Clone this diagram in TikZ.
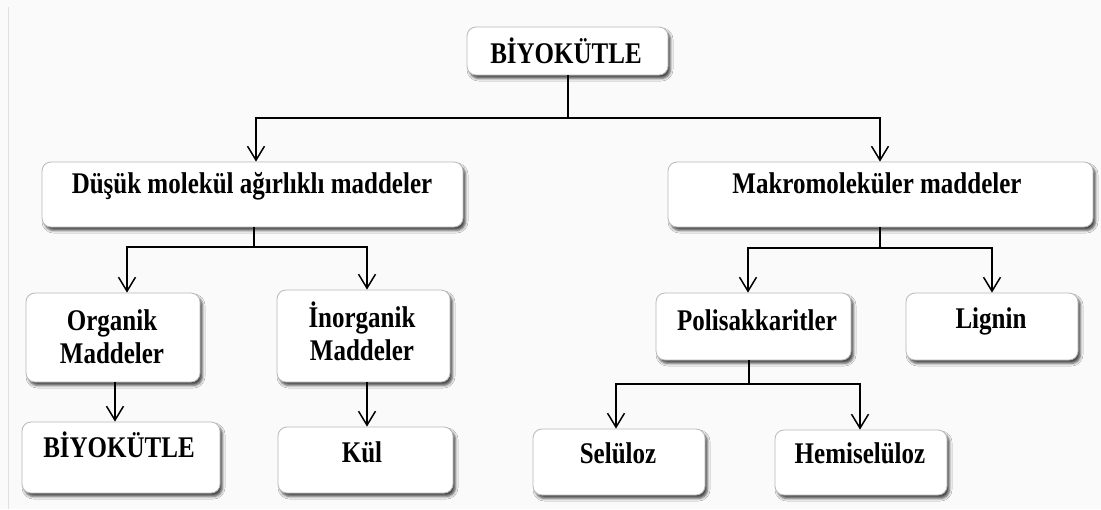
\documentclass[tikz,border=0pt]{standalone}
\usepackage{fontspec}
\usepackage{graphicx}
\setmainfont{Liberation Serif}
\usetikzlibrary{arrows.meta,shadows.blur,calc}
% bold serif lettering, drawn a little taller than its width
\newcommand{\tall}[1]{\scalebox{1}[1.2]{#1}}

\begin{document}
\begin{tikzpicture}[x=1pt,y=-1pt,
  box/.style={draw=black!28, line width=0.8pt, fill=white, rounded corners=9pt,
    inner sep=0pt,
    blur shadow={shadow xshift=2.5pt, shadow yshift=-3.5pt,
      shadow blur radius=2.5pt, shadow opacity=70}},
  lbl/.style={font=\fontsize{25}{33}\selectfont\bfseries, inner sep=0pt, anchor=base},
  link/.style={line width=1.8pt, draw=black},
  arr/.style={link, -{Straight Barb[length=14pt,width=17pt,line width=1.5pt]}}]

% page and faint frame line
\fill[black!2] (0,0) rectangle (1101,509);
\useasboundingbox (0,0) rectangle (1101,509);
\draw[black!12, line width=1pt] (8,7) -- (8,509);

% boxes
\node[box, minimum width=201pt, minimum height=48pt] (root) at (567.5,51) {};
\node[lbl] (rootT) at (566,63) {\tall{BİYOKÜTLE}};

\node[box, minimum width=421pt, minimum height=65pt] (low) at (252.5,194.5) {};
\node[lbl] (lowT) at (252,193) {\tall{Düşük molekül ağırlıklı maddeler}};

\node[box, minimum width=425pt, minimum height=65pt] (macro) at (880.5,194.5) {};
\node[lbl] (macroT) at (877,193) {\tall{Makromoleküler maddeler}};

\node[box, minimum width=174pt, minimum height=89pt] (org) at (113,337.5) {};
\node[lbl, text width=170pt, align=center] (orgT) at (112,330) {\tall{Organik}\\\tall{Maddeler}};

\node[box, minimum width=173pt, minimum height=92pt] (inorg) at (363.5,336) {};
\node[lbl, text width=170pt, align=center] (inorgT) at (362,327) {\tall{İnorganik}\\\tall{Maddeler}};

\node[box, minimum width=198pt, minimum height=71pt] (bio) at (121,457.5) {};
\node[lbl] (bioT) at (119,457) {\tall{BİYOKÜTLE}};

\node[box, minimum width=175pt, minimum height=66pt] (ash) at (365.5,460) {};
\node[lbl] (ashT) at (362,462) {\tall{Kül}};

\node[box, minimum width=195pt, minimum height=67pt] (poly) at (753.5,326.5) {};
\node[lbl] (polyT) at (757,330) {\tall{Polisakkaritler}};

\node[box, minimum width=172pt, minimum height=67pt] (lig) at (992,326.5) {};
\node[lbl] (ligT) at (991,328) {\tall{Lignin}};

\node[box, minimum width=172pt, minimum height=66pt] (cel) at (619,462) {};
\node[lbl] (celT) at (618,463) {\tall{Selüloz}};

\node[box, minimum width=172pt, minimum height=65pt] (hemi) at (861,462.5) {};
\node[lbl] (hemiT) at (860,463) {\tall{Hemiselüloz}};

% connectors
\coordinate (j0) at ([xshift=0.5pt]root.south |- 0,118);
\draw[link] ([xshift=0.5pt]root.south) -- (j0);
\draw[arr] (j0) -| ([xshift=3.5pt]low.north);
\draw[arr] (j0) -| ([xshift=-0.5pt]macro.north);

\coordinate (j1) at ([xshift=1.5pt]low.south |- 0,247);
\draw[link] ([xshift=1.5pt]low.south) -- (j1);
\draw[arr] (j1) -| ([xshift=14pt]org.north);
\draw[arr] (j1) -| ([xshift=3.5pt]inorg.north);

\draw[arr] ([xshift=2pt]org.south) -- ([xshift=2pt]org.south |- bio.north);
\draw[arr] ([xshift=3.5pt]inorg.south) -- ([xshift=3.5pt]inorg.south |- ash.north);

\coordinate (j2) at ([xshift=-0.5pt]macro.south |- 0,248);
\draw[link] ([xshift=-0.5pt]macro.south) -- (j2);
\draw[arr] (j2) -| ([xshift=-5.5pt]poly.north);
\draw[arr] (j2) -| (lig.north);

\coordinate (j3) at ([xshift=-4.5pt]poly.south |- 0,384);
\draw[link] ([xshift=-4.5pt]poly.south) -- (j3);
\draw[arr] (j3) -| ([xshift=-3pt]cel.north);
\draw[arr] (j3) -| ([xshift=-1pt]hemi.north);
\end{tikzpicture}
\end{document}
